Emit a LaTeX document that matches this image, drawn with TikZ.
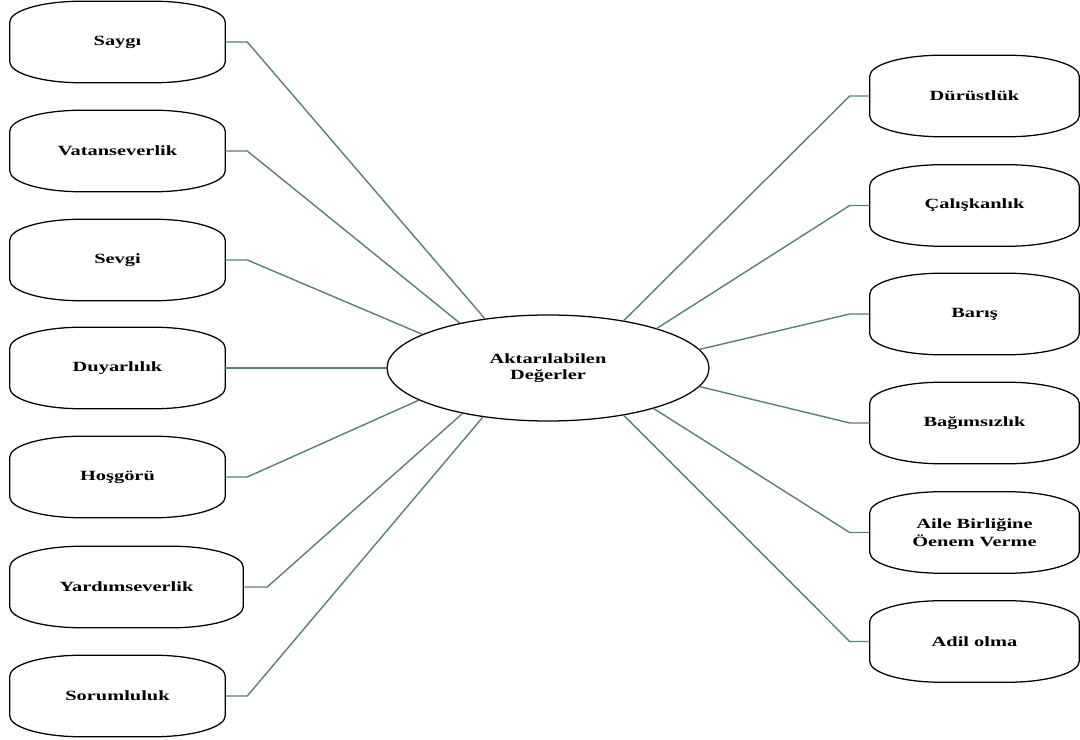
\documentclass[tikz,border=0pt]{standalone}
\usepackage{fontspec}
\setmainfont[FakeStretch=1.45]{Liberation Serif}
\usetikzlibrary{shapes.geometric}
\definecolor{connc}{RGB}{88,128,128}
\begin{document}
\begin{tikzpicture}[x=0.025cm,y=-0.025cm,
  lbl/.style={font=\bfseries\fontsize{10}{12}\selectfont, inner sep=0pt, align=center},
  lbox/.style={lbl, minimum width={215*0.025cm}, minimum height={81*0.025cm}},
  wbox/.style={lbl, minimum width={233*0.025cm}, minimum height={81*0.025cm}},
  rbox/.style={lbl, minimum width={209*0.025cm}, minimum height={81*0.025cm}},
  outline/.style={draw=black, line width=0.9pt},
  conn/.style={draw=connc, line width=1pt}]
\useasboundingbox (0,0) rectangle (1080,740);
\fill[white] (0,0) rectangle (1080,740);
% centre
\node[draw=black, line width=0.9pt, ellipse, minimum width={322*0.025cm}, minimum height={106*0.025cm}, inner sep=0pt,
  font=\bfseries\fontsize{10}{11}\selectfont, align=center] (e) at (548,368) {Aktarılabilen\\Değerler};
% left boxes
\node[lbox] (sa) at (117.5,42) {Saygı};
\node[lbox] (va) at (117.5,151) {Vatanseverlik};
\node[lbox] (se) at (117.5,260) {Sevgi};
\node[lbox] (du) at (117.5,368) {Duyarlılık};
\node[lbox] (ho) at (117.5,477) {Hoşgörü};
\node[wbox] (ya) at (126.5,587) {Yardımseverlik};
\node[lbox] (so) at (117.5,696) {Sorumluluk};
% right boxes
\node[rbox] (dr) at (974.5,96) {Dürüstlük};
\node[rbox] (ca) at (974.5,205.5) {Çalışkanlık};
\node[rbox] (ba) at (974.5,314) {Barış};
\node[rbox] (bg) at (974.5,423) {Bağımsızlık};
\node[rbox] (ai) at (974.5,532.5) {Aile Birliğine\\[1pt]Öenem Verme};
\node[rbox] (ad) at (974.5,641.5) {Adil olma};
% outlines
\foreach \n in {sa,va,se,du,ho,ya,so,dr,ca,ba,bg,ai,ad}{
  \draw[outline] ([yshift=-21*0.025cm]\n.north west)
    arc[start angle=180, end angle=270, x radius=72, y radius=21]
    -- ([xshift=-72*0.025cm]\n.north east)
    arc[start angle=270, end angle=360, x radius=72, y radius=21]
    -- ([yshift=21*0.025cm]\n.south east)
    arc[start angle=0, end angle=90, x radius=72, y radius=21]
    -- ([xshift=72*0.025cm]\n.south west)
    arc[start angle=90, end angle=180, x radius=72, y radius=21]
    -- cycle;
}
% connectors left
\draw[conn] (sa.east) -- ++(22,0) -- (e.142.9);
\draw[conn] (va.east) -- ++(22,0) -- (e.153.4);
\draw[conn] (se.east) -- ++(22,0) -- (e.165.9);
\draw[conn] (du.east) -- (e.west);
\draw[conn] (ho.east) -- ++(22,0) -- (e.194.6);
\draw[conn] (ya.east) -- ++(24,0) -- (e.208.6);
\draw[conn] (so.east) -- ++(22,0) -- (e.217.1);
% connectors right
\draw[conn] (dr.west) -- ++(-20,0) -- (e.32);
\draw[conn] (ca.west) -- ++(-20,0) -- (e.20.6);
\draw[conn] (ba.west) -- ++(-20,0) -- (e.7.1);
\draw[conn] (bg.west) -- ++(-20,0) -- (e.-7.5);
\draw[conn] (ai.west) -- ++(-20,0) -- (e.-21);
\draw[conn] (ad.west) -- ++(-20,0) -- (e.-32.5);
\end{tikzpicture}
\end{document}
